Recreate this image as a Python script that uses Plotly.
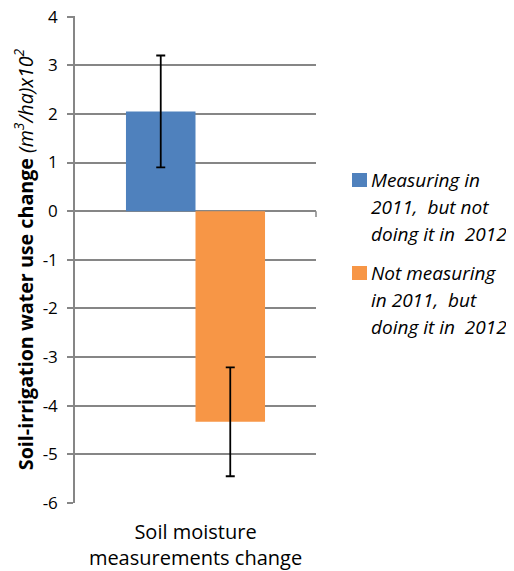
import plotly.graph_objects as go

categories = ["Soil moisture<br>measurements change"]
series_names = ["Measuring in<br>2011,  but not<br>doing it in  2012",
                "Not measuring<br>in 2011,  but<br>doing it in  2012"]
values_measuring_2011 = [2.05]
errors_measuring_2011 = [1.15]
values_measuring_2012 = [-4.33]
errors_measuring_2012 = [1.12]
colors = ["#4F81BD", "#F79646"]
y_ticks = [4, 3, 2, 1, 0, -1, -2, -3, -4, -5, -6]
y_tick_labels = ["4", "3", "2", "1", "0", "-1", "-2", "-3", "-4", "-5", "-6"]

FONT = "Open Sans"
GRID = "#868686"
OFF = 8  # default page body margin of the browser
W, H = 514 - OFF, 571 - OFF
L, R, T, B = 75 - OFF, 514 - 316, 16 - OFF, 571 - 503
PW, PH = W - L - R, H - T - B


def px_x(x):
    """window pixel x -> paper coordinate"""
    return (x - OFF - L) / PW


def px_y(y):
    """window pixel y -> paper coordinate"""
    return (H - B - (y - OFF)) / PH


fig = go.Figure()
for name, vals, errs, col in [
    (series_names[0], values_measuring_2011, errors_measuring_2011, colors[0]),
    (series_names[1], values_measuring_2012, errors_measuring_2012, colors[1]),
]:
    fig.add_trace(go.Bar(
        x=categories, y=vals, name=name, marker=dict(color=col, line=dict(width=0)),
        error_y=dict(type="data", array=errs, visible=True, color="black",
                     thickness=1.8, width=4.5),
        showlegend=False,
    ))

# manual legend (square + italic multi-line text)
entry_first_line_centers = [180, 273]
line_step = 27
for name, col, cy in zip(series_names, colors, entry_first_line_centers):
    fig.add_shape(type="rect", xref="paper", yref="paper",
                  x0=px_x(352), x1=px_x(367), y0=px_y(cy + 7), y1=px_y(cy - 7),
                  fillcolor=col, line=dict(width=0))
    for i, line in enumerate(name.split("<br>")):
        fig.add_annotation(xref="paper", yref="paper", x=px_x(369), y=px_y(cy + i * line_step),
                           xanchor="left", yanchor="middle", align="left",
                           text="<i>" + line + "</i>", showarrow=False,
                           font=dict(family=FONT, size=19, color="black"))

# small tick at right end of category axis line
fig.add_shape(type="line", xref="paper", yref="y", x0=1, x1=1, y0=0, y1=-0.12,
              line=dict(color=GRID, width=1.5))

fig.update_layout(
    width=W, height=H,
    margin=dict(l=L, r=R, t=T, b=B, autoexpand=False),
    paper_bgcolor="white", plot_bgcolor="white",
    barmode="group", bargap=0.423, bargroupgap=0,
    font=dict(family=FONT, size=17, color="black"),
)
fig.update_yaxes(
    range=[-6, 4.012], tickvals=y_ticks, ticktext=y_tick_labels,
    showgrid=True, gridcolor=GRID, gridwidth=1.5,
    zeroline=True, zerolinecolor=GRID, zerolinewidth=1.5,
    showline=True, linecolor=GRID, linewidth=1.5,
    ticks="outside", ticklen=6, tickcolor=GRID, tickwidth=1.5, ticklabelstandoff=6,
    ticklabeloverflow="allow",
    tickfont=dict(family=FONT, size=17, color="black"),
    title=dict(text="<b>Soil-irrigation water use change </b><i>(m<sup>3</sup>/ha)x10<sup>2</sup></i>",
               font=dict(family=FONT, size=19.7, color="black"), standoff=4),
    automargin=False,
)
fig.update_xaxes(
    showline=False, showgrid=False, ticks="", ticklabelstandoff=15,
    tickfont=dict(family=FONT, size=20, color="black"), automargin=False,
)

fig.write_html("out.html")
